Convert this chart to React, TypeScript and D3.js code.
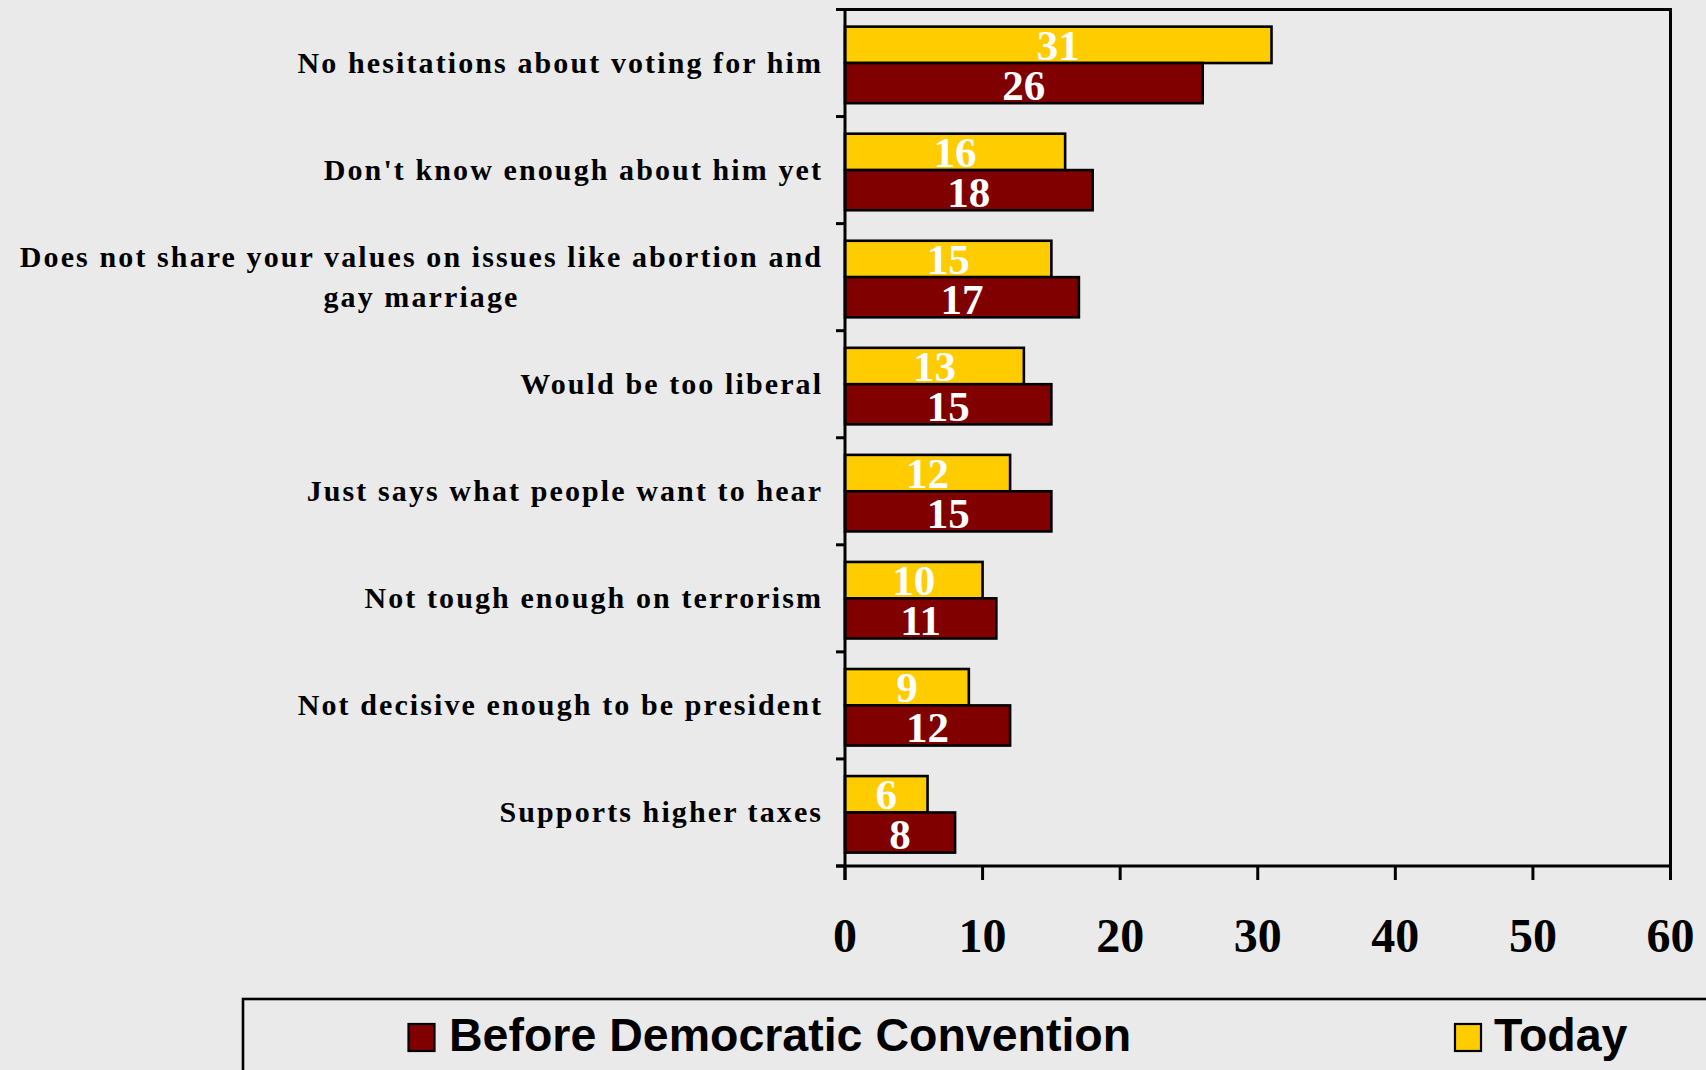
import React, { useEffect, useRef } from "react";
import * as d3 from "d3";

const categories = [
  "No hesitations about voting for him",
  "Don't know enough about him yet",
  "Does not share your values on issues like abortion and\ngay marriage",
  "Would be too liberal",
  "Just says what people want to hear",
  "Not tough enough on terrorism",
  "Not decisive enough to be president",
  "Supports higher taxes",
];
const todayValues = [31, 16, 15, 13, 12, 10, 9, 6];
const beforeValues = [26, 18, 17, 15, 15, 11, 12, 8];
const xTicks = [0, 10, 20, 30, 40, 50, 60];
const seriesNames = ["Before Democratic Convention", "Today"];
const seriesColors = ["#800000", "#FFCC00"];

const W = 1706;
const H = 1070;
const BG = "#EAEAEA";

export default function App() {
  const ref = useRef<SVGSVGElement>(null);

  useEffect(() => {
    const svg = d3.select(ref.current);
    svg.selectAll("*").remove();

    const left = 845;
    const right = 1670.5;
    const top = 9.5;
    const bottom = 866;

    const x = d3.scaleLinear().domain([0, 60]).range([left, right]);
    const y = d3.scaleBand().domain(categories).range([top, bottom]).padding(0);
    const bw = y.bandwidth();

    svg.append("rect").attr("width", W).attr("height", H).attr("fill", BG);

    // plot border (top/right)
    svg
      .append("path")
      .attr("d", `M${left - 9},${top}H${right}V${bottom}`)
      .attr("fill", "none")
      .attr("stroke", "#000")
      .attr("stroke-width", 3);

    // bars
    const g = svg.append("g");
    categories.forEach((c, i) => {
      const b = y(c)!;
      const yTop = b + 0.16 * bw;
      const yMid = b + 0.5 * bw;
      const yBot = b + 0.875 * bw;
      const bars = [
        { v: todayValues[i], y0: yTop, y1: yMid, color: seriesColors[1] },
        { v: beforeValues[i], y0: yMid, y1: yBot, color: seriesColors[0] },
      ];
      bars.forEach((d) => {
        g.append("rect")
          .attr("x", x(0))
          .attr("y", d.y0)
          .attr("width", x(d.v) - x(0))
          .attr("height", d.y1 - d.y0)
          .attr("fill", d.color)
          .attr("stroke", "#000")
          .attr("stroke-width", 2.6);
        g.append("text")
          .attr("x", (x(0) + x(d.v)) / 2)
          .attr("y", d.y1 - 3.5)
          .attr("text-anchor", "middle")
          .attr("font-family", "'Liberation Serif', 'Times New Roman', serif")
          .attr("font-weight", "bold")
          .attr("font-size", 43)
          .attr("fill", "#fff")
          .text(String(d.v));
      });
    });

    // y axis
    svg
      .append("line")
      .attr("x1", left)
      .attr("x2", left)
      .attr("y1", top)
      .attr("y2", bottom + 14)
      .attr("stroke", "#000")
      .attr("stroke-width", 3);
    const boundaries = d3.range(categories.length + 1).map((i) => top + i * bw);
    boundaries.forEach((yy) => {
      svg
        .append("line")
        .attr("x1", left - 9)
        .attr("x2", left)
        .attr("y1", yy)
        .attr("y2", yy)
        .attr("stroke", "#000")
        .attr("stroke-width", 3);
    });

    // x axis
    svg
      .append("line")
      .attr("x1", left - 9)
      .attr("x2", right)
      .attr("y1", bottom)
      .attr("y2", bottom)
      .attr("stroke", "#000")
      .attr("stroke-width", 3);
    xTicks.forEach((t) => {
      svg
        .append("line")
        .attr("x1", x(t))
        .attr("x2", x(t))
        .attr("y1", bottom)
        .attr("y2", bottom + 14)
        .attr("stroke", "#000")
        .attr("stroke-width", 3);
      svg
        .append("text")
        .attr("x", x(t))
        .attr("y", 952)
        .attr("text-anchor", "middle")
        .attr("font-family", "'Liberation Serif', 'Times New Roman', serif")
        .attr("font-weight", "bold")
        .attr("font-size", 48)
        .attr("fill", "#000")
        .text(String(t));
    });

    // category labels
    const ls = 2.1;
    const labelRight = 821;
    categories.forEach((c) => {
      const lines = c.split("\n");
      const cy = y(c)! + bw / 2;
      const lh = 40;
      const texts = lines.map((ln, k) =>
        svg
          .append("text")
          .attr("y", cy + 10 + (k - (lines.length - 1) / 2) * lh)
          .attr("font-family", "'Liberation Serif', 'Times New Roman', serif")
          .attr("font-weight", "bold")
          .attr("font-size", 30)
          .attr("letter-spacing", ls)
          .attr("fill", "#000")
          .attr("text-anchor", "middle")
          .text(ln)
      );
      const widths = texts.map((t) => (t.node() as SVGTextElement).getComputedTextLength() - ls);
      const maxW = d3.max(widths) || 0;
      const centerX = labelRight - maxW / 2;
      texts.forEach((t) => t.attr("x", centerX + ls / 2));
    });

    // legend
    svg
      .append("rect")
      .attr("x", 243)
      .attr("y", 999)
      .attr("width", 1600)
      .attr("height", 200)
      .attr("fill", "none")
      .attr("stroke", "#000")
      .attr("stroke-width", 2.6);
    const legendItems = [
      { name: seriesNames[0], color: seriesColors[0], sx: 408.5, tx: 449 },
      { name: seriesNames[1], color: seriesColors[1], sx: 1455, tx: 1494 },
    ];
    legendItems.forEach((it) => {
      svg
        .append("rect")
        .attr("x", it.sx)
        .attr("y", 1024)
        .attr("width", 26)
        .attr("height", 27)
        .attr("fill", it.color)
        .attr("stroke", "#000")
        .attr("stroke-width", 2.2);
      svg
        .append("text")
        .attr("x", it.tx)
        .attr("y", 1051)
        .attr("font-family", "'Liberation Sans', Arial, sans-serif")
        .attr("font-weight", "bold")
        .attr("font-size", 46.5)
        .attr("fill", "#000")
        .text(it.name);
    });
  }, []);

  return (
    <svg
      ref={ref}
      width={W}
      height={H}
      style={{ position: "absolute", left: 0, top: 0, display: "block" }}
    />
  );
}
